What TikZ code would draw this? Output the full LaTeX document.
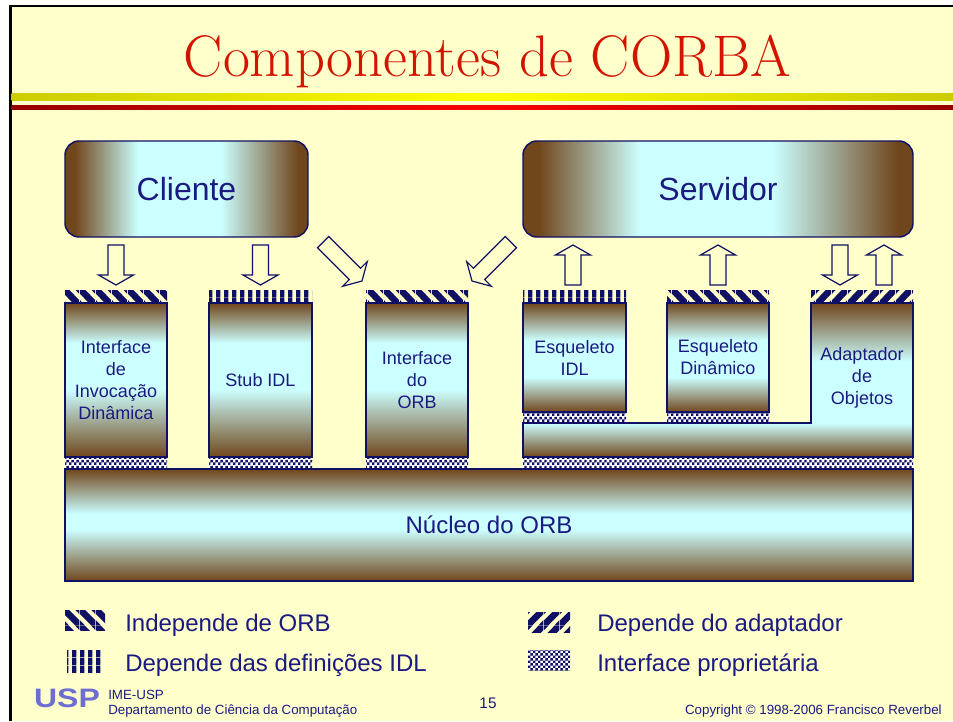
\documentclass[tikz,border=0pt]{standalone}
\usepackage{fontspec}
\newfontfamily\arialf{Liberation Sans}
\usetikzlibrary{patterns}
\definecolor{bgy}{RGB}{255,255,204}
\definecolor{cbrn}{RGB}{112,70,28}
\definecolor{ccyan}{RGB}{204,255,255}
\definecolor{linecol}{RGB}{16,16,100}
\definecolor{textcol}{RGB}{26,26,128}
\definecolor{titlered}{RGB}{210,20,0}
\definecolor{ybarE}{RGB}{204,204,0}
\definecolor{ybarC}{RGB}{255,255,0}
\definecolor{rbarE}{RGB}{150,0,0}
\definecolor{rbarC}{RGB}{255,0,0}
\definecolor{logoblue}{RGB}{110,110,210}

\pgfdeclarehorizontalshading{hbox}{100bp}{color(0bp)=(cbrn); color(27bp)=(cbrn); color(40bp)=(ccyan); color(57bp)=(ccyan); color(73bp)=(cbrn); color(100bp)=(cbrn)}
\pgfdeclareverticalshading{vbox}{100bp}{color(0bp)=(cbrn); color(25bp)=(cbrn); color(47bp)=(ccyan); color(62bp)=(ccyan); color(75bp)=(cbrn); color(100bp)=(cbrn)}
\pgfdeclareverticalshading{sbox}{100bp}{color(0bp)=(cbrn); color(25bp)=(cbrn); color(41bp)=(ccyan); color(58bp)=(ccyan); color(75bp)=(cbrn); color(100bp)=(cbrn)}
\pgfdeclareverticalshading{nbox}{100bp}{color(0bp)=(cbrn); color(25bp)=(cbrn); color(48bp)=(ccyan); color(55bp)=(ccyan); color(75bp)=(cbrn); color(100bp)=(cbrn)}
\pgfdeclareverticalshading{lbox}{100bp}{color(0bp)=(cbrn); color(25bp)=(cbrn); color(36bp)=(ccyan); color(56bp)=(ccyan); color(75bp)=(cbrn); color(100bp)=(cbrn)}

\pgfdeclarepatternformonly{nwstripes}{\pgfpointorigin}{\pgfqpoint{12pt}{12pt}}{\pgfqpoint{12pt}{12pt}}{%
 \pgfpathmoveto{\pgfqpoint{0pt}{8.4pt}}\pgfpathlineto{\pgfqpoint{0pt}{12pt}}\pgfpathlineto{\pgfqpoint{3.6pt}{12pt}}\pgfpathlineto{\pgfqpoint{12pt}{3.6pt}}\pgfpathlineto{\pgfqpoint{12pt}{0pt}}\pgfpathlineto{\pgfqpoint{8.4pt}{0pt}}\pgfpathclose
 \pgfpathmoveto{\pgfqpoint{0pt}{0pt}}\pgfpathlineto{\pgfqpoint{3.6pt}{0pt}}\pgfpathlineto{\pgfqpoint{0pt}{3.6pt}}\pgfpathclose
 \pgfpathmoveto{\pgfqpoint{12pt}{12pt}}\pgfpathlineto{\pgfqpoint{8.4pt}{12pt}}\pgfpathlineto{\pgfqpoint{12pt}{8.4pt}}\pgfpathclose
 \pgfusepath{fill}}
\pgfdeclarepatternformonly{nestripes}{\pgfpointorigin}{\pgfqpoint{12pt}{12pt}}{\pgfqpoint{12pt}{12pt}}{%
 \pgfpathmoveto{\pgfqpoint{0pt}{0pt}}\pgfpathlineto{\pgfqpoint{3.6pt}{0pt}}\pgfpathlineto{\pgfqpoint{12pt}{8.4pt}}\pgfpathlineto{\pgfqpoint{12pt}{12pt}}\pgfpathlineto{\pgfqpoint{8.4pt}{12pt}}\pgfpathlineto{\pgfqpoint{0pt}{3.6pt}}\pgfpathclose
 \pgfpathmoveto{\pgfqpoint{8.4pt}{0pt}}\pgfpathlineto{\pgfqpoint{12pt}{0pt}}\pgfpathlineto{\pgfqpoint{12pt}{3.6pt}}\pgfpathclose
 \pgfpathmoveto{\pgfqpoint{0pt}{8.4pt}}\pgfpathlineto{\pgfqpoint{0pt}{12pt}}\pgfpathlineto{\pgfqpoint{3.6pt}{12pt}}\pgfpathclose
 \pgfusepath{fill}}
\pgfdeclarepatternformonly{vstripes}{\pgfpointorigin}{\pgfqpoint{6pt}{6pt}}{\pgfqpoint{6pt}{6pt}}{%
 \pgfpathrectangle{\pgfpointorigin}{\pgfqpoint{3.6pt}{6pt}}\pgfusepath{fill}}
\pgfdeclarepatternformonly{fchecker}{\pgfpointorigin}{\pgfqpoint{4pt}{4pt}}{\pgfqpoint{4pt}{4pt}}{%
 \pgfpathrectangle{\pgfpointorigin}{\pgfqpoint{2pt}{2pt}}\pgfpathrectangle{\pgfqpoint{2pt}{2pt}}{\pgfqpoint{2pt}{2pt}}\pgfusepath{fill}}

\tikzset{
  pics/barrow/.style={code={\draw[arrowsty] (-8,-#1) -- (-8,-10) -- (-17.5,-10) -- (0,0) -- (17.5,-10) -- (8,-10) -- (8,-#1) -- cycle;}},
  arrowsty/.style={draw=linecol, line width=0.9pt, fill=bgy, line join=miter},
  box/.style={draw=linecol, line width=1.6pt, inner sep=0pt, text=textcol, align=center},
  colfont/.style={font=\arialf\fontsize{13.5}{16.5}\selectfont},
  legfont/.style={font=\arialf\fontsize{18}{22}\selectfont, text=textcol, inner sep=0pt},
  footfont/.style={font=\arialf\fontsize{10}{12}\selectfont, text=textcol, inner sep=0pt},
  stripe/.style={pattern=#1, pattern color=linecol},
  checker/.style={preaction={fill=white}, pattern=fchecker, pattern color=linecol},
}

\begin{document}
\begin{tikzpicture}[x=0.75pt,y=-0.75pt]
\useasboundingbox (0,0) rectangle (953,721);
\fill[white] (0,0) rectangle (953,721);
\fill[bgy] (10.5,6) rectangle (953,721);
\draw[black, line width=1.9pt] (10.5,721) -- (10.5,6) -- (953,6);

% title bars
\fill[left color=ybarE, right color=ybarE, middle color=ybarC] (11.5,93) rectangle (953,100);
\fill[left color=rbarE, right color=rbarE, middle color=rbarC] (11.5,105) rectangle (953,109);
\node[font=\fontsize{44}{52}\selectfont, text=titlered, anchor=base, inner sep=0pt] (title) at (487.5,76) {Componentes de CORBA};

% top boxes
\node[box, shade, shading=hbox, rounded corners=10.5pt, line width=1.1pt, minimum width=182.25pt, minimum height=72pt, font=\arialf\fontsize{24}{28}\selectfont] (cliente) at (186.5,189) {Cliente};
\node[box, shade, shading=hbox, rounded corners=10.5pt, line width=1.1pt, minimum width=292.5pt, minimum height=72pt, font=\arialf\fontsize{24}{28}\selectfont] (servidor) at (718,189) {Servidor};

% strips
\fill[stripe=nwstripes] (65,290) rectangle (167,303);
\fill[stripe=vstripes] (209,290) rectangle (312,303);
\fill[stripe=nwstripes] (366,290) rectangle (468,303);
\fill[stripe=vstripes] (523,290) rectangle (626,303);
\fill[stripe=nwstripes] (667,290) rectangle (769,303);
\fill[stripe=nestripes] (811,290) rectangle (913,303);
\fill[checker] (65,457) rectangle (167,469);
\fill[checker] (209,457) rectangle (312,469);
\fill[checker] (366,457) rectangle (468,469);
\fill[checker] (523,457) rectangle (913,469);
\fill[checker] (523,412) rectangle (626,423);
\fill[checker] (667,412) rectangle (769,423);

% columns
\node[box, colfont, shade, shading=vbox, minimum width=76.5pt, minimum height=115.5pt] (c1) at (116,380) {Interface\\de\\Invocação\\Dinâmica};
\node[box, colfont, shade, shading=vbox, minimum width=77.25pt, minimum height=115.5pt] (c2) at (260.5,380) {Stub IDL};
\node[box, colfont, shade, shading=vbox, minimum width=76.5pt, minimum height=115.5pt] (c3) at (417,380) {Interface\\do\\ORB};
\node[box, colfont, shade, shading=sbox, minimum width=77.25pt, minimum height=81.75pt] (c4) at (574.5,357.5) {Esqueleto\\IDL};
\node[box, colfont, shade, shading=sbox, minimum width=76.5pt, minimum height=81.75pt] (c5) at (718,357.5) {Esqueleto\\Dinâmico};
\draw[draw=linecol, line width=1.6pt, shade, shading=lbox] (811,303) -- (913,303) -- (913,457) -- (523,457) -- (523,423) -- (811,423) -- cycle;
\node[colfont, text=textcol, align=center, inner sep=0pt] (c6) at (862,378) {Adaptador\\de\\Objetos};

% nucleus
\node[box, shade, shading=nbox, minimum width=636pt, minimum height=84pt, font=\arialf\fontsize{18}{22}\selectfont] (nucleo) at (489,525) {Núcleo do ORB};

% arrows
\pic at (116,285) {barrow=40};
\pic at (260.5,285) {barrow=40};
\pic[rotate=45] at (362,281) {barrow=55};
\pic[rotate=-45] at (472,281) {barrow=55};
\pic[rotate=180] at (573,245) {barrow=40};
\pic[rotate=180] at (718,245) {barrow=40};
\pic at (840,285) {barrow=40};
\pic[rotate=180] at (884,245) {barrow=40};

% legend
\fill[stripe=nwstripes] (65,610) rectangle (105,630);
\fill[stripe=vstripes] (67,650) rectangle (103,672);
\fill[stripe=nestripes] (528,612) rectangle (570,632);
\fill[checker] (528,650) rectangle (570,670);
\node[legfont, anchor=base west] (l1) at (125,631) {Independe de ORB};
\node[legfont, anchor=base west] (l2) at (125,671) {Depende das definições IDL};
\node[legfont, anchor=base west] (l3) at (597,631) {Depende do adaptador};
\node[legfont, anchor=base west] (l4) at (597,671) {Interface proprietária};

% footer
\node[font=\arialf\bfseries\fontsize{20}{20}\selectfont, text=logoblue, inner sep=0pt, transform shape, xscale=1.2] (logo) at (67,698) {USP};
\node[footfont, anchor=base west] (ime) at (108,699.5) {IME-USP};
\node[footfont, anchor=base west] (dept) at (108,714) {Departamento de Ciência da Computação};
\node[footfont, font=\arialf\fontsize{11.5}{13}\selectfont, anchor=base] (pnum) at (488,708) {15};
\node[footfont, anchor=base east] (copy) at (942,714) {Copyright © 1998-2006 Francisco Reverbel};
\end{tikzpicture}
\end{document}
